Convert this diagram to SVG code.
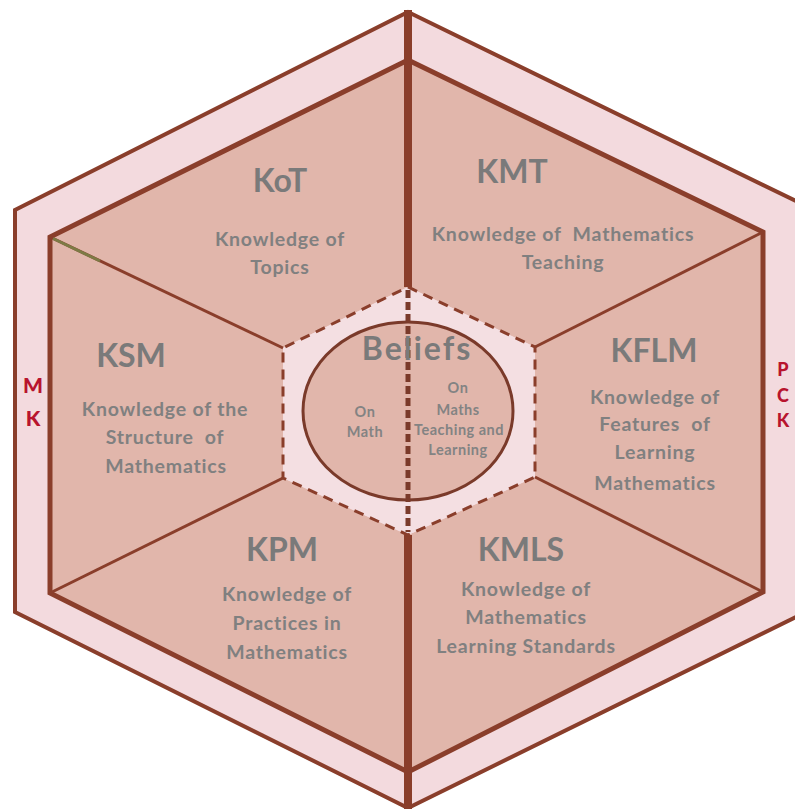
<svg xmlns="http://www.w3.org/2000/svg" width="795" height="809" viewBox="0 0 795 809">
<style>
.band{fill:#f3dade;stroke:none}
.sector{fill:#e1b6ab;stroke:none}
.edge{fill:none;stroke:#8a3e2b;stroke-linejoin:miter}
.head{font-family:Lato,"Open Sans",sans-serif;font-weight:bold;font-size:32px;fill:#7a7a7a;text-anchor:middle}
.desc{font-family:Lato,"Open Sans",sans-serif;font-weight:bold;font-size:19.5px;letter-spacing:0.8px;fill:#808080;text-anchor:middle}
.small{font-family:Lato,"Open Sans",sans-serif;font-weight:bold;font-size:14.5px;letter-spacing:0.5px;fill:#838383;text-anchor:middle}
.side{font-family:Lato,"Open Sans",sans-serif;font-weight:900;fill:#b8142e;text-anchor:middle}
</style>
<rect width="795" height="809" fill="#ffffff"/>
<g id="bands">
  <g id="MK">
    <polygon class="band" points="408,12 15,210 15,612 408,808"/>
    <text class="side" x="33" y="393" font-size="21">M</text>
    <text class="side" x="33" y="426" font-size="21">K</text>
  </g>
  <g id="PCK">
    <polygon class="band" points="408,12 800,203 800,615 408,808"/>
    <text class="side" x="783" y="376" font-size="18">P</text>
    <text class="side" x="783" y="402" font-size="18">C</text>
    <text class="side" x="783" y="427" font-size="18">K</text>
  </g>
</g>
<g id="KoT">
  <polygon class="sector" points="50,237 408,60 408,287 283,348"/>
  <text class="head" x="280" y="192">KoT</text>
  <text class="desc" x="280" y="246">Knowledge of</text>
  <text class="desc" x="280" y="274">Topics</text>
</g>
<g id="KMT">
  <polygon class="sector" points="408,60 763,232 535,347 408,287"/>
  <text class="head" x="512" y="183">KMT</text>
  <text class="desc" x="563" y="241" xml:space="preserve">Knowledge of  Mathematics</text>
  <text class="desc" x="563" y="269">Teaching</text>
</g>
<g id="KFLM">
  <polygon class="sector" points="763,232 763,592 535,477 535,347"/>
  <text class="head" x="654" y="362">KFLM</text>
  <text class="desc" x="655" y="404">Knowledge of</text>
  <text class="desc" x="655" y="431" xml:space="preserve">Features  of</text>
  <text class="desc" x="655" y="459">Learning</text>
  <text class="desc" x="655" y="490">Mathematics</text>
</g>
<g id="KMLS">
  <polygon class="sector" points="763,592 408,772 408,535 535,477"/>
  <text class="head" x="521" y="561">KMLS</text>
  <text class="desc" x="526" y="596">Knowledge of</text>
  <text class="desc" x="526" y="624">Mathematics</text>
  <text class="desc" x="526" y="653">Learning Standards</text>
</g>
<g id="KPM">
  <polygon class="sector" points="408,772 50,593 283,478 408,535"/>
  <text class="head" x="282" y="561">KPM</text>
  <text class="desc" x="287" y="601">Knowledge of</text>
  <text class="desc" x="287" y="630">Practices in</text>
  <text class="desc" x="287" y="659">Mathematics</text>
</g>
<g id="KSM">
  <polygon class="sector" points="50,593 50,237 283,348 283,478"/>
  <text class="head" x="131" y="367">KSM</text>
  <text class="desc" x="165" y="416">Knowledge of the</text>
  <text class="desc" x="165" y="444" xml:space="preserve">Structure  of</text>
  <text class="desc" x="166" y="473">Mathematics</text>
</g>
<g id="connectors">
  <polygon class="edge" stroke-width="4" points="408,12 800,203 800,615 408,808 15,612 15,210"/>
  <polygon class="edge" stroke-width="5" points="408,60 763,232 763,592 408,772 50,593 50,237"/>
  <line class="edge" stroke-width="8" x1="408" y1="10" x2="408" y2="287"/>
  <line class="edge" stroke-width="8" x1="408" y1="535" x2="408" y2="809"/>
  <line class="edge" stroke-width="3" x1="50" y1="237" x2="283" y2="348"/>
  <line stroke="#7d7a45" stroke-width="3" x1="53" y1="238.5" x2="100" y2="261"/>
  <line class="edge" stroke-width="3" x1="763" y1="232" x2="535" y2="347"/>
  <line class="edge" stroke-width="3" x1="50" y1="593" x2="283" y2="478"/>
  <line class="edge" stroke-width="3" x1="763" y1="592" x2="535" y2="477"/>
</g>
<g id="Beliefs">
  <polygon fill="#f4dfe2" stroke="#8a3e2b" stroke-width="3" stroke-dasharray="10 7" points="408,287 535,347 535,477 408,535 283,478 283,348"/>
  <ellipse cx="408" cy="411" rx="105" ry="89" fill="#e1b6ab" stroke="#7a3a2a" stroke-width="3"/>
  <line stroke="#7a3a2a" stroke-width="5" stroke-dasharray="8 4" x1="408" y1="290" x2="408" y2="532"/>
  <text class="head" x="417" y="360" letter-spacing="2">Beliefs</text>
  <text class="small" x="365" y="417">On</text>
  <text class="small" x="365" y="437">Math</text>
  <text class="small" x="458" y="393">On</text>
  <text class="small" x="458" y="415">Maths</text>
  <text class="small" x="459" y="435">Teaching and</text>
  <text class="small" x="458" y="455">Learning</text>
</g>
</svg>
